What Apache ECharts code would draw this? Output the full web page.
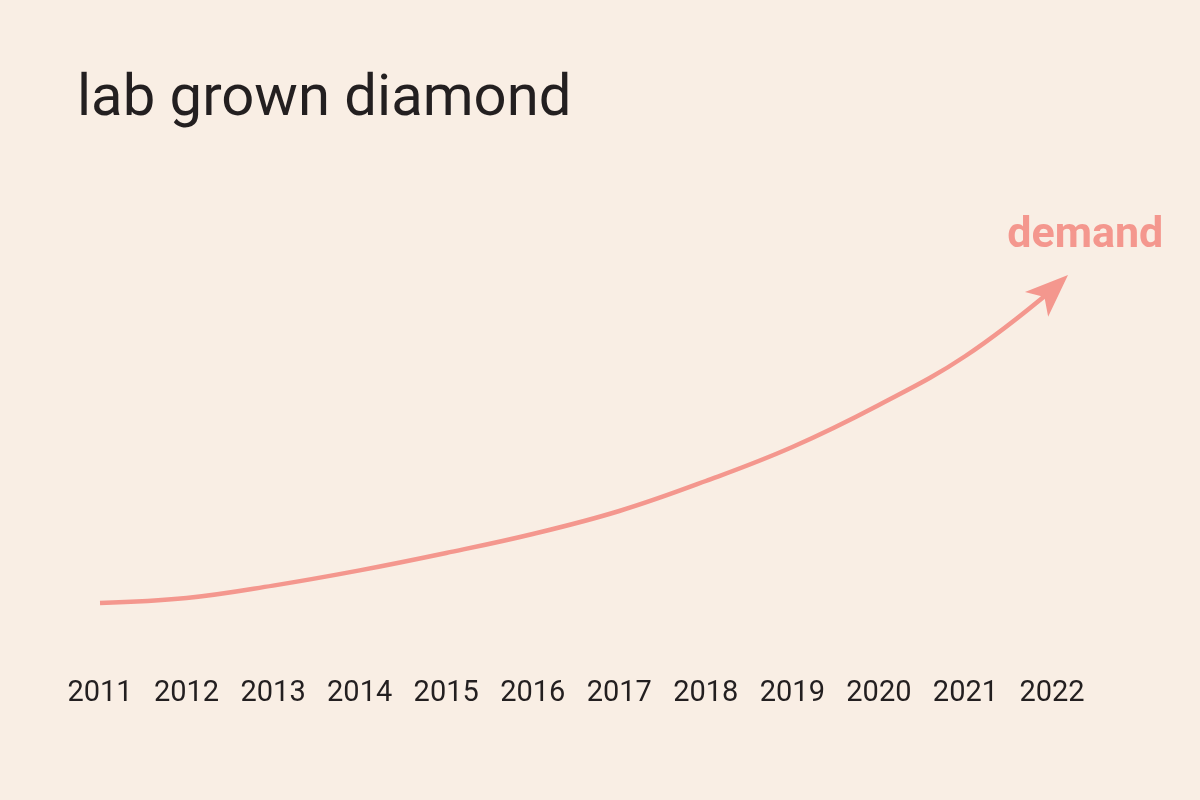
<!DOCTYPE html>
<html>
<head>
<meta charset="utf-8">
<script src="https://cdn.jsdelivr.net/npm/echarts@6/dist/echarts.min.js"></script>
<style>
html,body{margin:0;padding:0;background:#F9EEE4;}
#chart{width:1200px;height:800px;}
</style>
</head>
<body>
<div id="chart"></div>
<script>
const titleText = 'lab grown diamond';
const seriesLabel = 'demand';
const years = ['2011','2012','2013','2014','2015','2016','2017','2018','2019','2020','2021','2022'];
const demand = [11.75, 13, 16.1, 19.9, 24.25, 29, 34.75, 42.25, 50.75, 61.25, 73.5, 90];

const lineColor = '#F4978E';
const textColor = '#231F20';

const chart = echarts.init(document.getElementById('chart'), null, {renderer: 'canvas'});
const lastIdx = years.length - 1;

chart.setOption({
  backgroundColor: '#F9EEE4',
  animation: false,
  title: {
    text: titleText,
    left: 72,
    top: 66,
    textStyle: {
      fontFamily: 'Roboto',
      fontSize: 58,
      fontWeight: 'normal',
      color: textColor
    }
  },
  grid: {left: 100, right: 148, top: 250, bottom: 150},
  xAxis: {
    type: 'category',
    data: years,
    boundaryGap: false,
    axisLine: {show: false},
    axisTick: {show: false},
    splitLine: {show: false},
    axisLabel: {
      margin: 29,
      fontFamily: 'Roboto',
      fontSize: 29,
      color: textColor,
      interval: 0
    }
  },
  yAxis: {
    type: 'value',
    min: 0,
    max: 100,
    show: false
  },
  series: [
    {
      type: 'line',
      data: demand,
      smooth: 0.4,
      showSymbol: false,
      symbol: 'none',
      lineStyle: {color: lineColor, width: 4.5},
      z: 2
    },
    {
      type: 'scatter',
      data: [[years[lastIdx], demand[lastIdx]]],
      symbol: 'arrow',
      symbolSize: [25.5, 43],
      symbolRotate: -47,
      symbolOffset: [16, -15],
      itemStyle: {color: lineColor, opacity: 1},
      z: 3,
      label: {
        show: true,
        formatter: seriesLabel,
        position: 'inside',
        offset: [33, -53],
        fontFamily: 'Roboto',
        fontSize: 43,
        fontWeight: 'bold',
        color: lineColor
      }
    }
  ]
});
</script>
</body>
</html>
